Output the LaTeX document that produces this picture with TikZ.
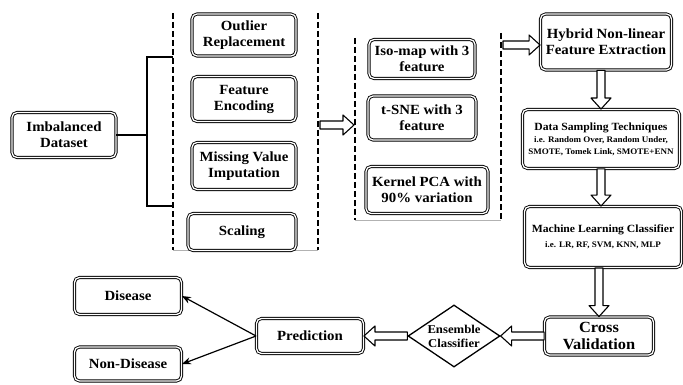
\documentclass[tikz,border=0pt]{standalone}
\usepackage{fontspec}
\setmainfont{Liberation Serif}[FakeStretch=1.06]
\usetikzlibrary{arrows.meta,shapes.geometric,shadows,calc}

\tikzset{
  box/.style={draw, double, double distance=1.3pt, line width=0.9pt, rounded corners=5pt,
    fill=white, align=center, inner sep=1pt, font=\fontsize{14}{16}\selectfont\bfseries,
    drop shadow={shadow xshift=1.2pt, shadow yshift=-1.2pt, fill=black!45}},
  small/.style={font=\fontsize{11}{13}\selectfont\bfseries},
  grp/.style={line width=1.3pt, dash pattern=on 6pt off 3pt},
  hollow/.style={draw, line width=1.1pt, fill=white, line join=round, to path={
    let \p1=($(\tikztotarget)!11pt!(\tikztostart)$) in
    ($(\tikztostart)!4pt!90:(\tikztotarget)$) -- ($(\p1)!4pt!90:(\tikztotarget)$)
    -- ($(\p1)!10pt!90:(\tikztotarget)$) -- (\tikztotarget)
    -- ($(\p1)!10pt!-90:(\tikztotarget)$) -- ($(\p1)!4pt!-90:(\tikztotarget)$)
    -- ($(\tikztostart)!4pt!-90:(\tikztotarget)$) -- cycle}},
  thin/.style={line width=1.2pt, -{Stealth[length=9pt,width=7pt]}},
}

\begin{document}
\begin{tikzpicture}[x=1pt,y=-1pt]
  \useasboundingbox (0,0) rectangle (683,385);

  % preprocessing group
  \draw[grp] (173,13) -- (173,250);
  \draw[grp] (318,13) -- (318,250);
  \draw[gray!60, line width=0.8pt] (173,250) -- (318,250);
  % feature extraction group
  \draw[grp] (355,38) -- (355,220);
  \draw[grp] (501,33) -- (501,220);
  \draw[gray!60, line width=0.8pt] (355,220) -- (501,220);

  \node[box, minimum width=104, minimum height=45] (imb) at (64,135) {Imbalanced\\Dataset};

  \node[box, minimum width=104, minimum height=42] (outl) at (244,35) {Outlier\\Replacement};
  \node[box, minimum width=104, minimum height=45] (fenc) at (244,99) {Feature\\Encoding};
  \node[box, minimum width=104, minimum height=47] (miss) at (244,166) {Missing Value\\Imputation};
  \node[box, minimum width=108, minimum height=37] (scal) at (242,232) {Scaling};

  \node[box, minimum width=106, minimum height=39] (iso) at (422,59) {Iso-map with 3\\feature};
  \node[box, minimum width=108, minimum height=44] (tsne) at (422,118) {t-SNE with 3\\feature};
  \node[box, minimum width=122, minimum height=47] (kpca) at (427,190) {Kernel PCA with\\90\% variation};

  \node[box, minimum width=131, minimum height=56] (hyb) at (606,42) {Hybrid Non-linear\\Feature Extraction};
  \node[box, minimum width=157, minimum height=59, small] (samp) at (601,139)
    {Data Sampling Techniques\\[-1pt]{\fontsize{8.5}{12}\selectfont i.e. Random Over, Random Under,}\\[-1pt]
     {\fontsize{8.5}{12}\selectfont SMOTE, Tomek Link, SMOTE+ENN}};
  \node[box, minimum width=157, minimum height=61, small] (mlc) at (603,237)
    {Machine Learning Classifier\\[2pt]{\fontsize{8.5}{12}\selectfont i.e. LR, RF, SVM, KNN, MLP}};
  \node[box, minimum width=109, minimum height=38, font=\fontsize{15.5}{17}\selectfont\bfseries] (cv) at (599,336) {Cross\\Validation};

  \node[draw, diamond, aspect=1.5, line width=1.3pt, fill=white, inner sep=0pt,
    minimum width=92, minimum height=62, align=center, font=\fontsize{12}{14}\selectfont\bfseries] (ens) at (454,336) {Ensemble\\Classifier};

  \node[box, minimum width=107, minimum height=35] (pred) at (310,336) {Prediction};
  \node[box, minimum width=107, minimum height=37] (dis) at (128,296) {Disease};
  \node[box, minimum width=107, minimum height=34] (ndis) at (128,364) {Non-Disease};

  % bracket from dataset to preprocessing
  \coordinate (bx) at (147,0);
  \coordinate (bt) at (173,57);
  \coordinate (bb) at (173,206);
  \draw[line width=1.6pt] (imb.east) -- (imb.east -| bx);
  \draw[line width=1.6pt] (bt) -- (bt -| bx) -- (bb -| bx) -- (bb);

  % flow
  \coordinate (g1) at (320,125);
  \coordinate (g2) at (354,125);
  \coordinate (g3) at (503,45);
  \draw[hollow] (g1) to (g2);
  \draw[hollow] (g3) to (hyb.west |- g3);
  \draw[hollow] (hyb.south -| samp) to (samp.north);
  \draw[hollow] (samp.south) to (samp.south |- mlc.north);
  \draw[hollow] (mlc.south -| cv) to (cv.north);
  \draw[hollow] (cv.west) to (ens.east);
  \draw[hollow] (ens.west) to (pred.east);
  \draw[thin] (pred.west) -- (dis.east);
  \draw[thin] (pred.west) -- (ndis.east);
\end{tikzpicture}
\end{document}
